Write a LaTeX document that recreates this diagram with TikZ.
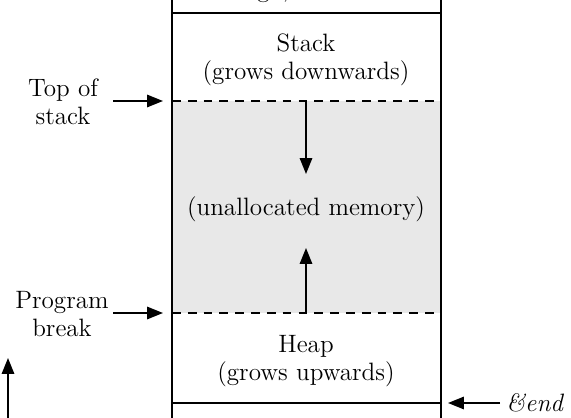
\documentclass[tikz,border=0pt]{standalone}
\usetikzlibrary{arrows.meta}
\begin{document}
\begin{tikzpicture}[x=0.02cm,y=-0.02cm,
  lbl/.style={font=\fontsize{14.3}{16}\selectfont, align=center, inner sep=0pt},
  wall/.style={line width=1.2pt},
  sep/.style={line width=0.9pt, dash pattern=on 5pt off 4pt},
  arr/.style={line width=1pt, -{Triangle[length=9pt,width=7pt]}}]
\useasboundingbox (0,0) rectangle (571,418);
% grey region
\fill[gray!18] (172,101) rectangle (441,313);
% walls
\draw[wall] (172,-5) -- (172,425);
\draw[wall] (441,-5) -- (441,425);
\draw[wall] (172,13) -- (441,13);
\draw[wall] (172,403) -- (441,403);
% dashed separators
\coordinate (tsL) at (172,101); \coordinate (tsR) at (441,101);
\coordinate (pbL) at (172,313); \coordinate (pbR) at (441,313);
\draw[sep] (tsL) -- (tsR);
\draw[sep] (pbL) -- (pbR);
% texts
\node[lbl] (argv) at (306,-8) {argv, environ};
\node[lbl] (stack) at (306,60) {Stack\\(grows downwards)};
\node[lbl] (unal) at (306,209) {(unallocated memory)};
\node[lbl] (heap) at (306,361) {Heap\\(grows upwards)};
\node[lbl] (tos) at (63,102) {Top of\\stack};
\node[lbl] (pb) at (62,314) {Program\\break};
\node[font=\fontsize{14.3}{16}\selectfont\itshape, inner sep=0pt, anchor=west] (end) at (506,403) {\&end};
% arrows
\coordinate (sd1) at (306,102); \coordinate (sd2) at (306,174);
\draw[arr] (sd1) -- (sd2);
\coordinate (hu1) at (306,313); \coordinate (hu2) at (306,248);
\draw[arr] (hu1) -- (hu2);
\coordinate (tosA) at (113,101); \coordinate (tosB) at (163,101);
\draw[arr] (tosA) -- (tosB);
\coordinate (pbA) at (113,313); \coordinate (pbB) at (163,313);
\draw[arr] (pbA) -- (pbB);
\coordinate (eA) at (500,403); \coordinate (eB) at (448,403);
\draw[arr] (eA) -- (eB);
\coordinate (addrA) at (8,425); \coordinate (addrB) at (8,358);
\draw[arr] (addrA) -- (addrB);
\end{tikzpicture}
\end{document}
